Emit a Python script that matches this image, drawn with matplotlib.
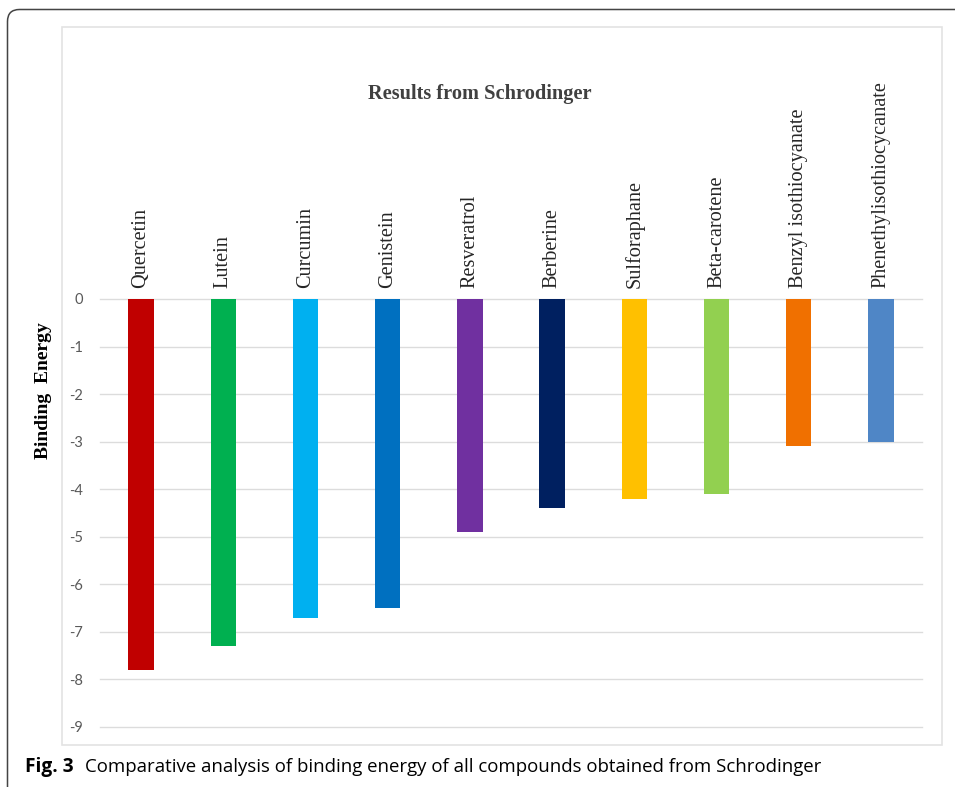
import matplotlib
matplotlib.use("Agg")
import matplotlib.pyplot as plt
from matplotlib.patches import FancyBboxPatch, Rectangle
from matplotlib.transforms import IdentityTransform

# compounds and their docking scores (Schrodinger)
compounds = ["Quercetin", "Lutein", "Curcumin", "Genistein", "Resveratrol",
             "Berberine", "Sulforaphane", "Beta-carotene",
             "Benzyl isothiocyanate", "Phenethylisothiocycanate"]
binding_energy = [-7.8, -7.3, -6.7, -6.5, -4.9, -4.4, -4.2, -4.1, -3.1, -3.0]
bar_colors = ["#C00000", "#00B050", "#00B0F0", "#0070C0", "#7030A0",
              "#002060", "#FFC000", "#92D050", "#F07000", "#4F86C6"]
y_ticks = list(range(0, -10, -1))

W, H = 955, 787
fig = plt.figure(figsize=(W / 100, H / 100), dpi=100)

# outer rounded frame and the light chart frame
fig.patches.append(FancyBboxPatch((7.5, -40), 1100, H - 10 + 40 + 0.5,
                                  boxstyle="round,pad=0,rounding_size=12",
                                  transform=IdentityTransform(), fill=False,
                                  edgecolor="#444444", linewidth=1.1))
fig.patches.append(Rectangle((62, H - 745), 880, 718, transform=IdentityTransform(),
                             fill=False, edgecolor="#e3e3e3", linewidth=1.2))

ax = fig.add_axes([100 / W, 1 - 727 / H, 822 / W, 428 / H])
x = range(len(compounds))
ax.bar(x, binding_energy, width=0.31, color=bar_colors, zorder=3)

ax.set_xlim(-0.5, len(compounds) - 0.5)
ax.set_ylim(-9, 0)
ax.set_yticks(y_ticks)
ax.set_yticklabels([str(v) for v in y_ticks], fontsize=10.5, color="#595959",
                   fontfamily="Lato")
ax.grid(axis="y", color="#dcdcdc", linewidth=1, zorder=0)
for gl in ax.get_ygridlines():
    gl.set_clip_on(False)
ax.tick_params(axis="y", length=0, pad=12)

ax.xaxis.tick_top()
ax.set_xticks(list(x))
ax.set_xticklabels(compounds, rotation=90, fontsize=14.6,
                   fontfamily="Liberation Serif", color="#262626")
ax.tick_params(axis="x", length=0, pad=8)

for s in ax.spines.values():
    s.set_visible(False)
ax.set_facecolor("none")

fig.text(480 / W, 1 - 94 / H, "Results from Schrodinger", ha="center", va="center",
         fontsize=14.7, fontweight="bold", fontfamily="Liberation Serif", color="#404040")
fig.text(43 / W, 1 - 391 / H, "Binding  Energy", ha="center", va="center", rotation=90,
         fontsize=14, fontweight="bold", fontfamily="Liberation Serif", color="#000000")

# caption
fig.text(25 / W, 1 - 772 / H, "Fig. 3", ha="left", va="baseline", fontsize=13.8,
         fontweight="bold", fontfamily="Open Sans")
fig.text(85 / W, 1 - 772 / H,
         "Comparative analysis of binding energy of all compounds obtained from Schrodinger",
         ha="left", va="baseline", fontsize=13.4, fontfamily="Open Sans")

fig.savefig("out.png", dpi=100, facecolor="white")
